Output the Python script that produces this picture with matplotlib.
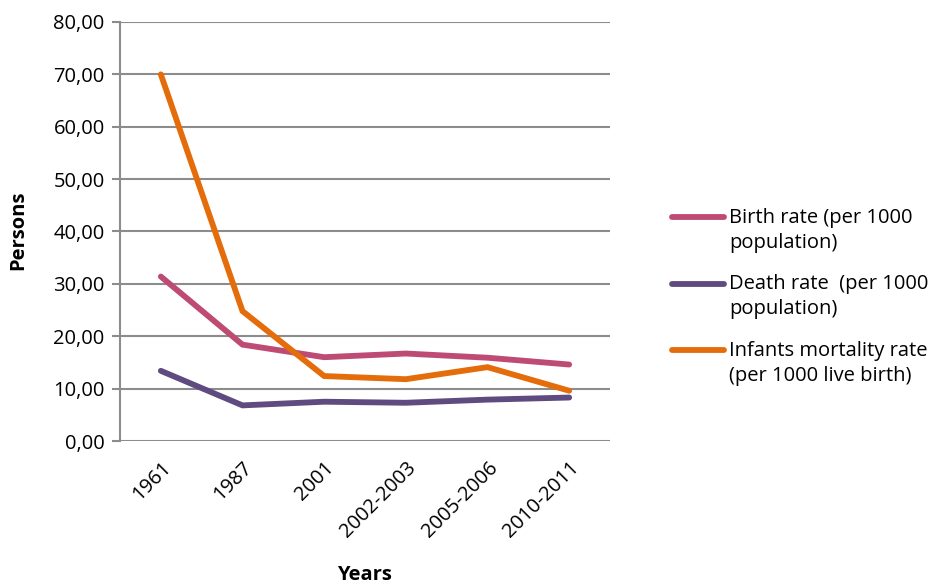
import matplotlib
matplotlib.use('Agg')
import matplotlib.pyplot as plt
from matplotlib.lines import Line2D
from matplotlib.ticker import FuncFormatter

years = ['1961', '1987', '2001', '2002-2003', '2005-2006', '2010-2011']
birth_rate = [31.4, 18.4, 16.0, 16.7, 15.9, 14.6]
death_rate = [13.4, 6.8, 7.5, 7.3, 7.9, 8.3]
infant_mortality = [70.0, 24.8, 12.4, 11.8, 14.1, 9.6]

series_labels = [
    'Birth rate (per 1000\npopulation)',
    'Death rate  (per 1000\npopulation)',
    'Infants mortality rate\n(per 1000 live birth)',
]
colors = ['#BE4B74', '#5F4B7F', '#E46C0A']

plt.rcParams['font.family'] = ['Open Sans', 'DejaVu Sans']
FS = 14.5
W, H = 939, 585

fig = plt.figure(figsize=(W / 100, H / 100), dpi=100)
ax = fig.add_axes([120 / W, 1 - 441 / H, 490 / W, 419 / H])

x = list(range(len(years)))
for vals, lab, col in zip([birth_rate, death_rate, infant_mortality], series_labels, colors):
    ax.plot(x, vals, color=col, lw=4.2, solid_capstyle='round', solid_joinstyle='miter', label=lab)

ax.set_xlim(-0.5, len(years) - 0.5)
ax.set_ylim(0, 80)
ax.set_yticks(range(0, 81, 10))
ax.yaxis.set_major_formatter(FuncFormatter(lambda v, p: f'{v:.2f}'.replace('.', ',')))
ax.grid(axis='y', color='#8C8C8C', lw=1.5)
ax.set_axisbelow(True)

for side in ['top', 'right', 'bottom']:
    ax.spines[side].set_visible(False)
ax.spines['left'].set_color('#8C8C8C')
ax.spines['left'].set_linewidth(1.5)

ax.tick_params(axis='y', length=6, width=1.5, color='#8C8C8C', labelsize=FS, pad=5)
ax.tick_params(axis='x', length=0, labelsize=FS, pad=12)
ax.set_xticks(x)
ax.set_xticklabels(years, rotation=45, ha='right', rotation_mode='anchor')

ax.set_xlabel('Years', fontsize=FS, fontweight='bold')
ax.set_ylabel('Persons', fontsize=FS, fontweight='bold')
ax.xaxis.set_label_coords(0.498, -0.296)
ax.yaxis.set_label_coords(-0.188, 0.504)

# legend: swatch sits level with the first line of each wrapped label
for i, (line, lab) in enumerate(zip(ax.get_lines(), series_labels)):
    ypx = 217 + i * 66.5
    fig.add_artist(Line2D([672 / W, 724 / W], [1 - ypx / H] * 2, color=line.get_color(),
                          lw=4.2, solid_capstyle='round'))
    fig.text(729 / W, 1 - (ypx - 9) / H, lab, fontsize=FS, va='top', ha='left',
             linespacing=1.3)

fig.savefig('out.png', dpi=100)
